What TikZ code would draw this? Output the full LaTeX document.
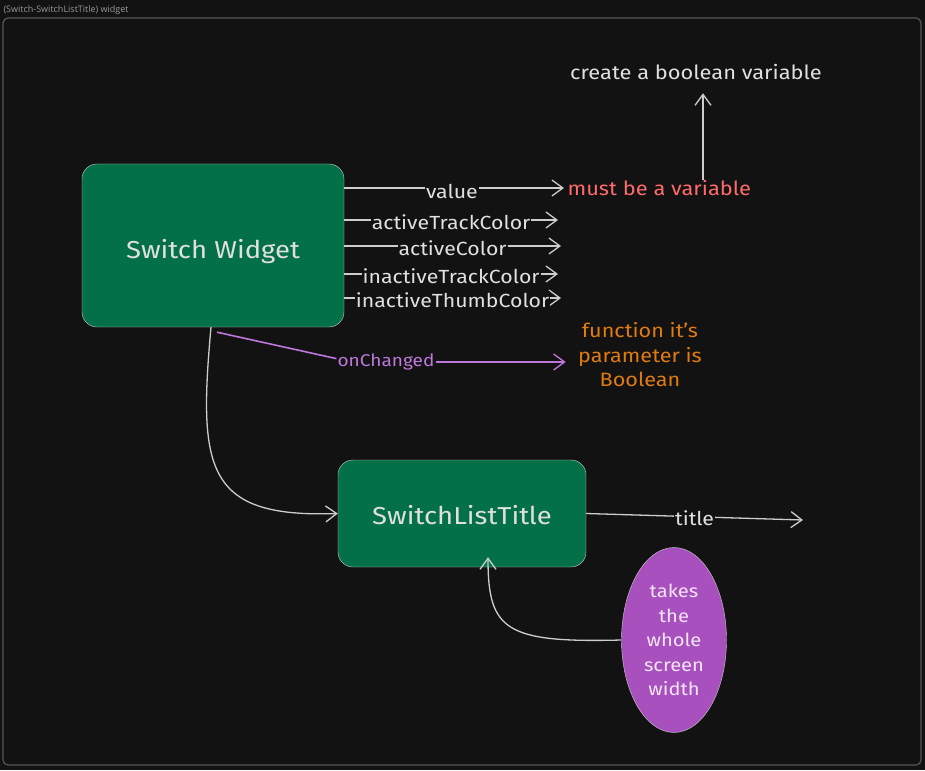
\documentclass[tikz,border=0pt]{standalone}
\usepackage{fontspec}
\setmainfont[FakeStretch=1.12]{Fira Sans}
\newfontfamily\framefont{Open Sans}
\usetikzlibrary{arrows.meta,shapes.geometric}

\definecolor{bgdark}{RGB}{18,18,18}
\definecolor{framegray}{RGB}{85,85,85}
\definecolor{swgreen}{RGB}{4,112,72}
\definecolor{linegray}{RGB}{205,205,205}
\definecolor{mustred}{RGB}{255,107,107}
\definecolor{fnorange}{RGB}{224,123,15}
\definecolor{onpurple}{RGB}{190,120,220}
\definecolor{ellpurple}{RGB}{168,80,190}

\tikzset{
    widgetbox/.style={draw=linegray, fill=swgreen, rounded corners=15pt,
        text=white!88!black, font=\fontsize{24.5}{26}\selectfont, text depth=0pt},
    prop/.style={draw=linegray, line width=1.3pt, -{Straight Barb[length=11pt,width=16pt]}},
    proplbl/.style={fill=bgdark, text=white!88!black, inner sep=1pt,
        font=\fontsize{19}{21}\selectfont},
    note/.style={font=\fontsize{19.5}{22}\selectfont, align=center},
}

\begin{document}
\begin{tikzpicture}[x=1pt,y=-1pt]
    \fill[bgdark] (0,0) rectangle (925,770);
    \draw[framegray, line width=1.2pt, rounded corners=5pt] (3,18) rectangle (921,765);
    \node[anchor=west, text=white!60!black, font=\framefont\fontsize{9}{10}\selectfont] (frm) at (0,10) {(Switch-SwitchListTitle) widget};

    % main boxes
    \node[widgetbox, minimum width=262pt, minimum height=163pt, text height=25pt] (sw) at (213,245.5) {Switch Widget};
    \node[widgetbox, minimum width=248pt, minimum height=107pt, text height=22pt] (slt) at (462,513.5) {SwitchListTitle};

    % notes
    \node[note, text=white!88!black] (cbv) at (696,72) {create a boolean variable};
    \node[note, text=mustred, anchor=west] (mbv) at (564,188) {must be a variable};
    \node[note, text=fnorange, font=\fontsize{19.3}{24.5}\selectfont] (fn) at (640,355) {function it's\\parameter is\\Boolean};
    \node[ellipse, fill=ellpurple, draw=linegray, minimum width=105pt, minimum height=185pt,
        note, text=white!85!ellpurple, font=\fontsize{18}{24.5}\selectfont] (ell) at (674,640) {takes\\the\\whole\\screen\\width};

    % properties of switch
    \coordinate (up) at (703,180);
    \draw[prop] (up) -- (up |- cbv.south) [shorten >=10pt];
    \draw[prop] (sw.east |- mbv) -- (mbv.west) node[proplbl, pos=0.49, yshift=-3pt] {value};
    \coordinate (atc) at (558,220);
    \coordinate (ac) at (561,246);
    \coordinate (itc) at (558,274);
    \coordinate (ith) at (561,298);
    \draw[prop] (sw.east |- atc) -- (atc) node[proplbl, midway, yshift=-2pt] {activeTrackColor};
    \draw[prop] (sw.east |- ac) -- (ac) node[proplbl, midway, yshift=-2pt] {activeColor};
    \draw[prop] (sw.east |- itc) -- (itc) node[proplbl, midway, yshift=-2pt] {inactiveTrackColor};
    \draw[prop] (sw.east |- ith) -- (ith) node[proplbl, midway, yshift=-2pt] {inactiveThumbColor};

    % onChanged
    \node[proplbl, text=onpurple, font=\fontsize{17}{19}\selectfont] (onc) at (386,362) {onChanged};
    \draw[onpurple, line width=1.6pt] ([shift={(4,5)}]sw.south) -- ([yshift=-6pt]onc.north west);
    \draw[prop, draw=onpurple, shorten >=9pt] (onc.east) -- (fn.west |- onc.east);

    % switch to switchlisttitle
    \draw[prop] ([xshift=-2pt]sw.south) .. controls (198,470) and (206,518) .. (slt.west);

    % title
    \coordinate (ttl) at (803,520);
    \draw[prop] (slt.east) -- (ttl) node[proplbl, midway, yshift=-1pt] {title};

    % width note
    \draw[prop] (ell.west) .. controls (505,643) and (488,630) .. ([xshift=26pt,yshift=10pt]slt.south);
\end{tikzpicture}
\end{document}
